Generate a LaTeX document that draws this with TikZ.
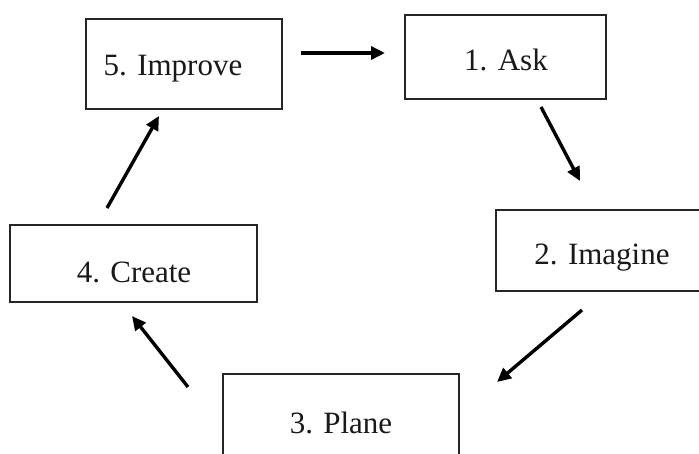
\documentclass[tikz,border=0pt]{standalone}
\usepackage{fontspec}
\setmainfont{Liberation Serif}
\usetikzlibrary{arrows.meta}
\begin{document}
\begin{tikzpicture}[x=1pt,y=-1pt,
  boxst/.style={draw=black!85,line width=1.8pt},
  lbl/.style={anchor=base,inner sep=0pt,font=\fontsize{31}{36}\selectfont,text=black!90},
  arr/.style={line width=3.4pt,-{Triangle[length=14pt,width=13pt]},black}]
\useasboundingbox (0,0) rectangle (699,453);
\fill[white] (0,0) rectangle (699,453);
% boxes
\draw[boxst] (86,19) rectangle (282,109);
\draw[boxst] (405,15) rectangle (606,99);
\draw[boxst] (496,210) rectangle (720,291);
\draw[boxst] (10,225) rectangle (257,302);
\draw[boxst] (223,374) rectangle (459,480);
% labels
\node[lbl] (t5) at (173,75) {5. Improve};
\node[lbl] (t1) at (506,70) {1. Ask};
\node[lbl] (t2) at (602,264) {2. Imagine};
\node[lbl] (t4) at (134,282) {4. Create};
\node[lbl] (t3) at (341,433) {3. Plane};
% arrow endpoints
\coordinate (a51s) at (301,53);  \coordinate (a51e) at (385,53);
\coordinate (a12s) at (541,107); \coordinate (a12e) at (580,181);
\coordinate (a23s) at (582,310); \coordinate (a23e) at (497,382);
\coordinate (a34s) at (188,387); \coordinate (a34e) at (132,316);
\coordinate (a45s) at (107,208); \coordinate (a45e) at (159,116);
\draw[arr] (a51s) -- (a51e);
\draw[arr] (a12s) -- (a12e);
\draw[arr] (a23s) -- (a23e);
\draw[arr] (a34s) -- (a34e);
\draw[arr] (a45s) -- (a45e);
\end{tikzpicture}
\end{document}
